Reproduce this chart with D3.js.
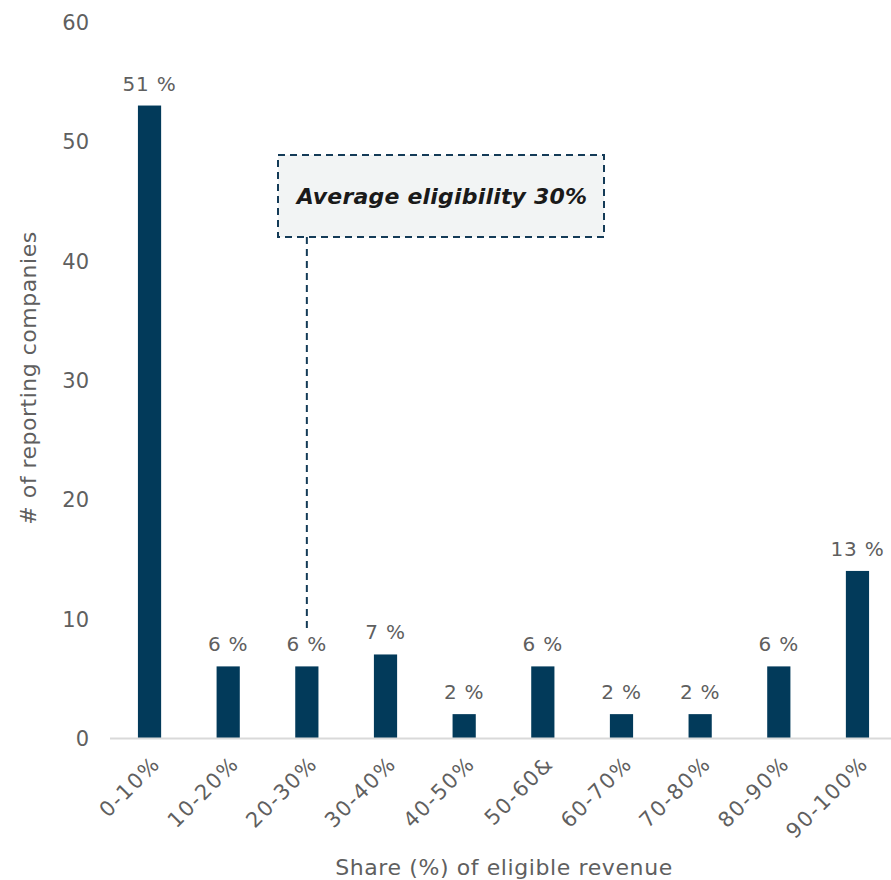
<!DOCTYPE html>
<html>
<head>
<meta charset="utf-8">
<script src="https://cdn.jsdelivr.net/npm/d3@7"></script>
<style>
  html, body { margin: 0; padding: 0; background: #ffffff; }
  svg { display: block; }
  text { font-family: "DejaVu Sans", sans-serif; }
</style>
</head>
<body>
<div id="chart"></div>
<script>
// Distribution of reporting companies by share of eligible revenue
const categories = ["0-10%", "10-20%", "20-30%", "30-40%", "40-50%", "50-60&", "60-70%", "70-80%", "80-90%", "90-100%"];
const companyCounts = [53, 6, 6, 7, 2, 6, 2, 2, 6, 14];
const yTicks = [0, 10, 20, 30, 40, 50, 60];
const averageLabel = "Average eligibility 30%";
const averageCategory = "20-30%";

const width = 891, height = 880;
const margin = { top: 22, right: -6, bottom: 142, left: 110 };

const total = d3.sum(companyCounts);
const data = categories.map((c, i) => ({ cat: c, value: companyCounts[i], share: Math.round(companyCounts[i] / total * 100) }));

const svg = d3.select("#chart").append("svg")
  .attr("width", width).attr("height", height);

const x = d3.scaleBand()
  .domain(categories)
  .range([margin.left, width - margin.right])
  .paddingInner(0.705)
  .paddingOuter(0.355);

const y = d3.scaleLinear()
  .domain([0, 60])
  .range([height - margin.bottom, margin.top]);

const textColor = "#5f5f5f";
const barColor = "#023a5a";

// y axis (labels only)
const yAxis = svg.append("g")
  .attr("transform", `translate(${margin.left - 21},0)`)
  .call(d3.axisLeft(y).tickValues(yTicks).tickSize(0).tickPadding(0));
yAxis.select(".domain").remove();
yAxis.selectAll("text")
  .attr("fill", textColor)
  .style("font-size", "21px")
  .attr("dy", "0.35em");

// bars
svg.append("g").selectAll("rect")
  .data(data).join("rect")
  .attr("x", d => x(d.cat))
  .attr("y", d => y(d.value))
  .attr("width", x.bandwidth())
  .attr("height", d => y(0) - y(d.value))
  .attr("fill", barColor);

// baseline
svg.append("line")
  .attr("x1", margin.left).attr("x2", width)
  .attr("y1", y(0) + 0.5).attr("y2", y(0) + 0.5)
  .attr("stroke", "#d9d9d9").attr("stroke-width", 2);

// x axis labels
const xAxis = svg.append("g")
  .attr("transform", `translate(0,${y(0)})`)
  .call(d3.axisBottom(x).tickSize(0).tickPadding(0));
xAxis.select(".domain").remove();
xAxis.selectAll("text")
  .attr("fill", textColor)
  .style("font-size", "21px")
  .style("letter-spacing", "1.6px")
  .attr("text-anchor", "end")
  .attr("dy", "0")
  .attr("transform", "translate(12,27) rotate(-45)");

// value labels (share of companies)
svg.append("g").selectAll("text")
  .data(data).join("text")
  .attr("x", d => x(d.cat) + x.bandwidth() / 2)
  .attr("y", d => y(d.value) - 15)
  .attr("text-anchor", "middle")
  .attr("fill", textColor)
  .style("font-size", "20px")
  .style("letter-spacing", "0.8px")
  .text(d => `${d.share} %`);

// average annotation
const avgX = x(averageCategory) + x.bandwidth() / 2;
const box = { x0: 278, x1: 604, y0: 155, y1: 237 };
svg.append("line")
  .attr("x1", avgX).attr("x2", avgX)
  .attr("y1", box.y1).attr("y2", y(6) - 36)
  .attr("stroke", "#143b57").attr("stroke-width", 2)
  .attr("stroke-dasharray", "7,5");
svg.append("rect")
  .attr("x", box.x0).attr("y", box.y0)
  .attr("width", box.x1 - box.x0).attr("height", box.y1 - box.y0)
  .attr("fill", "#f2f4f4")
  .attr("stroke", "#143b57").attr("stroke-width", 2)
  .attr("stroke-dasharray", "7,5");
svg.append("text")
  .attr("x", (box.x0 + box.x1) / 2 + 1).attr("y", (box.y0 + box.y1) / 2 + 8)
  .attr("text-anchor", "middle")
  .attr("fill", "#1a1a1a")
  .style("font-size", "22px")
  .style("font-style", "italic")
  .style("font-weight", "bold")
  .style("letter-spacing", "0.2px")
  .text(averageLabel);

// axis titles
svg.append("text")
  .attr("x", 504).attr("y", 875)
  .attr("text-anchor", "middle")
  .attr("fill", textColor)
  .style("font-size", "22px")
  .style("letter-spacing", "0.6px")
  .text("Share (%) of eligible revenue");
svg.append("text")
  .attr("transform", `translate(36,378) rotate(-90)`)
  .attr("text-anchor", "middle")
  .attr("fill", textColor)
  .style("font-size", "22px")
  .style("letter-spacing", "0.5px")
  .text("# of reporting companies");
</script>
</body>
</html>
